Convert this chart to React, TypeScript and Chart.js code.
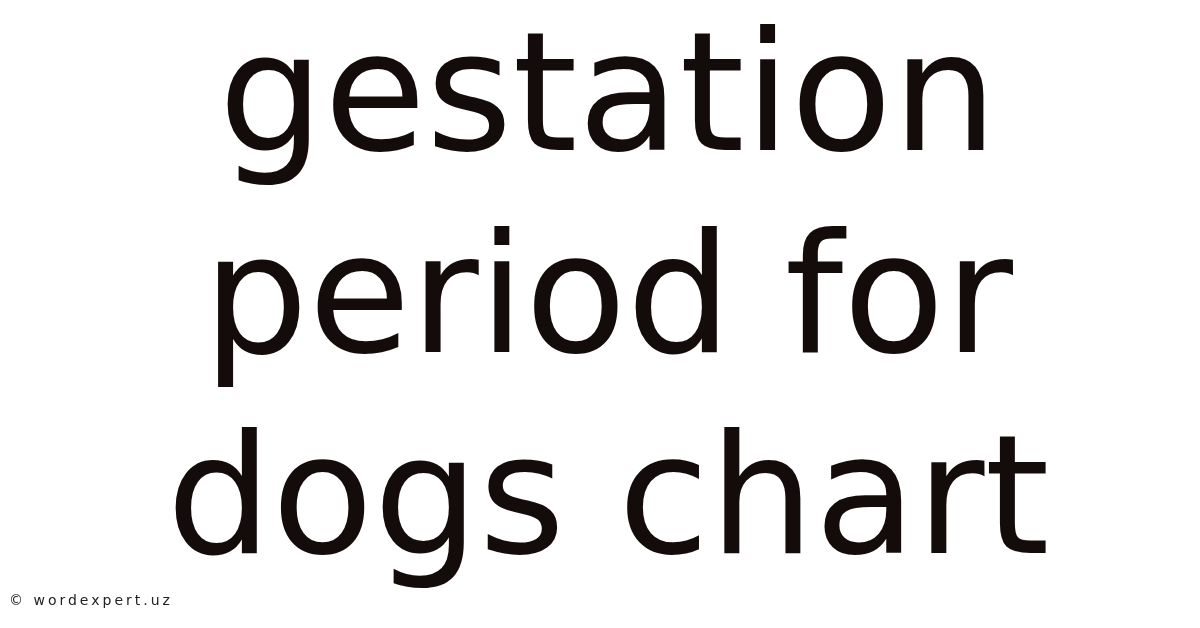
import React, { useEffect, useRef } from "react";
import { Chart, registerables } from "chart.js";

Chart.register(...registerables);

const titleLines = ["gestation", "period for", "dogs chart"];
const watermark = "© wordexpert.uz";

const textPlugin = {
  id: "bigText",
  afterDraw(chart: Chart) {
    const ctx = chart.ctx;
    ctx.save();
    ctx.fillStyle = "#ffffff";
    ctx.fillRect(0, 0, chart.width, chart.height);

    ctx.fillStyle = "#140b0b";
    ctx.font = '166px "DejaVu Sans"';
    ctx.textAlign = "center";
    ctx.textBaseline = "alphabetic";
    titleLines.forEach((line, i) => {
      ctx.fillText(line, 608, 150 + i * 201.5);
    });

    ctx.fillStyle = "#222222";
    ctx.font = '14px "DejaVu Sans"';
    ctx.textAlign = "left";
    (ctx as any).letterSpacing = "3px";
    ctx.fillText(watermark, 9, 605);
    ctx.restore();
  },
};

const App: React.FC = () => {
  const canvasRef = useRef<HTMLCanvasElement>(null);
  const chartInstance = useRef<Chart>();

  useEffect(() => {
    document.body.style.margin = "0";
    if (canvasRef.current) {
      if (chartInstance.current) chartInstance.current.destroy();
      chartInstance.current = new Chart(canvasRef.current, {
        type: "scatter",
        data: { datasets: [] },
        options: {
          animation: false,
          responsive: false,
          devicePixelRatio: 1,
          layout: { padding: 0 },
          scales: {
            x: { display: false },
            y: { display: false },
          },
          plugins: {
            legend: { display: false },
            tooltip: { enabled: false },
          },
        },
        plugins: [textPlugin],
      });
    }
    return () => {
      if (chartInstance.current) {
        chartInstance.current.destroy();
        chartInstance.current = undefined;
      }
    };
  }, []);

  return (
    <div style={{ width: 1200, height: 628, background: "#fff" }}>
      <canvas ref={canvasRef} width={1200} height={628} />
    </div>
  );
};

export default App;
